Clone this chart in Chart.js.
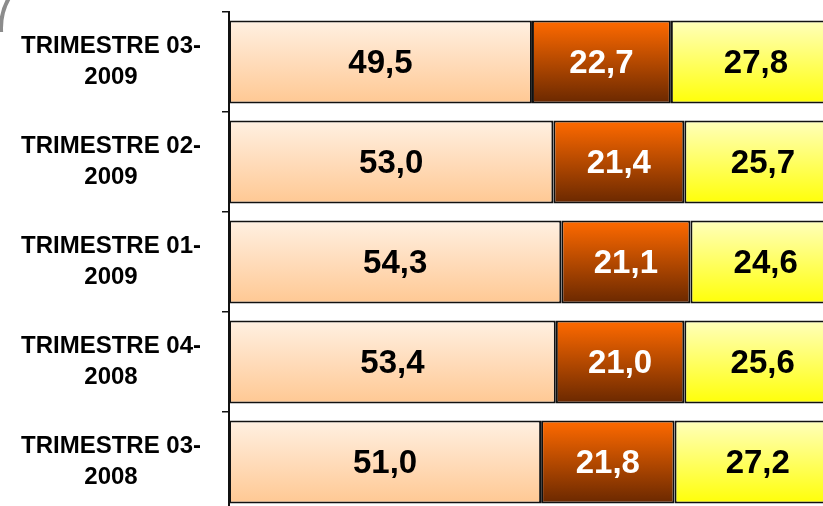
<!DOCTYPE html>
<html>
<head>
<meta charset="utf-8">
<script src="https://cdn.jsdelivr.net/npm/chart.js@4.4.0/dist/chart.umd.min.js"></script>
<style>
  html, body { margin: 0; padding: 0; background: #ffffff; overflow: hidden; width: 823px; height: 506px; }
  #wrap { position: relative; width: 823px; height: 506px; overflow: hidden; }
  canvas { position: absolute; left: 0; top: 0; }
  #corner { position: absolute; left: 0; top: 0; width: 14px; height: 32px; overflow: hidden; }
  #corner div { position: absolute; left: -1px; top: -33px; width: 122px; height: 122px; box-sizing: border-box; border: 4px solid #8c8c8c; border-radius: 50%; }
</style>
</head>
<body>
<div id="wrap">
  <canvas id="c" width="860" height="520"></canvas>
  <div id="corner"><div></div></div>
</div>
<script>
const categories = [
  ["TRIMESTRE 03-", "2009"],
  ["TRIMESTRE 02-", "2009"],
  ["TRIMESTRE 01-", "2009"],
  ["TRIMESTRE 04-", "2008"],
  ["TRIMESTRE 03-", "2008"]
];
const seriesA = [49.5, 53.0, 54.3, 53.4, 51.0];
const seriesB = [22.7, 21.4, 21.1, 21.0, 21.8];
const seriesC = [27.8, 25.7, 24.6, 25.6, 27.2];

const BAR_FRACTION = 0.83;

function gradientFill(topColor, bottomColor) {
  return function (ctx) {
    const chart = ctx.chart;
    const yScale = chart.scales && chart.scales.y;
    if (!chart.chartArea || !yScale || ctx.dataIndex === undefined) return bottomColor;
    const band = (yScale.bottom - yScale.top) / chart.data.labels.length;
    const center = yScale.getPixelForValue(ctx.dataIndex);
    const half = band * BAR_FRACTION / 2;
    const g = chart.ctx.createLinearGradient(0, center - half, 0, center + half);
    g.addColorStop(0, topColor);
    g.addColorStop(1, bottomColor);
    return g;
  };
}

const textColors = ['#000000', '#ffffff', '#000000'];

const valueLabels = {
  id: 'valueLabels',
  afterDatasetsDraw(chart) {
    const ctx = chart.ctx;
    ctx.save();
    ctx.font = 'bold 33px "Liberation Sans", Arial, sans-serif';
    ctx.textAlign = 'center';
    ctx.textBaseline = 'middle';
    chart.data.datasets.forEach((ds, di) => {
      const meta = chart.getDatasetMeta(di);
      meta.data.forEach((bar, i) => {
        const p = bar.getProps(['x', 'y', 'base'], true);
        const cx = (p.x + p.base) / 2;
        ctx.fillStyle = textColors[di];
        ctx.fillText(ds.data[i].toFixed(1).replace('.', ','), cx, p.y + 2);
      });
    });
    ctx.restore();
  }
};

new Chart(document.getElementById('c'), {
  type: 'bar',
  data: {
    labels: categories,
    datasets: [
      { data: seriesA, backgroundColor: gradientFill('#FFF0E2', '#FFC893') },
      { data: seriesB, backgroundColor: gradientFill('#FF6A00', '#6A2800') },
      { data: seriesC, backgroundColor: gradientFill('#FFFFBC', '#FFFF08') }
    ]
  },
  options: {
    indexAxis: 'y',
    responsive: false,
    animation: false,
    events: [],
    layout: { padding: { top: 12, bottom: 8, left: 0, right: 19 } },
    datasets: {
      bar: {
        borderColor: '#111111',
        borderWidth: 2,
        borderSkipped: false,
        categoryPercentage: 1.0,
        barPercentage: BAR_FRACTION
      }
    },
    plugins: { legend: { display: false }, tooltip: { enabled: false } },
    scales: {
      x: { stacked: true, min: 0, max: 100, display: false },
      y: {
        stacked: true,
        afterFit(scale) {
          scale.width = 229;
          scale.paddingTop = 0;
          scale.paddingBottom = 0;
        },
        border: { display: true, color: '#111111', width: 2 },
        grid: { offset: true, drawOnChartArea: false, drawTicks: true, tickLength: 7, color: '#111111', lineWidth: 1.5 },
        ticks: {
          crossAlign: 'center',
          padding: 21,
          color: '#000000',
          font: { family: '"Liberation Sans", Arial, sans-serif', size: 24, weight: 'bold', lineHeight: 1.28 }
        }
      }
    }
  },
  plugins: [valueLabels]
});
</script>
</body>
</html>
